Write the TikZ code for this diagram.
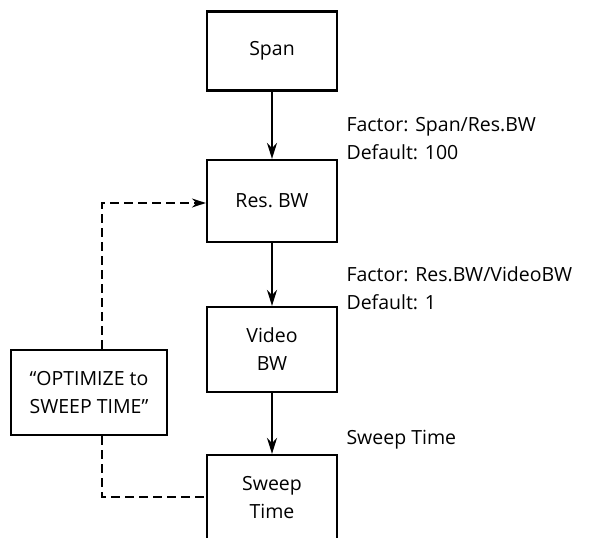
\documentclass[tikz,border=0pt]{standalone}
\usepackage{fontspec}
\setmainfont{Open Sans}
\usetikzlibrary{arrows.meta,positioning}

\begin{document}
\begin{tikzpicture}[x=1pt,y=-1pt,font=\fontsize{19.5}{28}\selectfont,
    blockbox/.style={draw,line width=2.2pt,minimum width=130pt,minimum height=82pt,align=center,inner sep=2pt},
    flow/.style={line width=2.2pt,-{Stealth[length=16pt,width=10pt]}},
    loopline/.style={line width=1.6pt,dash pattern=on 9pt off 5pt}]
    \useasboundingbox (0,0) rectangle (592,538);
    % main chain
    \node[blockbox,minimum height=79pt] (span) at (272,51) {Span};
    \node[blockbox] (resbw) at (272,201) {Res.\ BW};
    \node[blockbox,minimum height=85pt] (vidbw) at (272,349.5) {Video\\BW};
    \node[blockbox,minimum height=85pt] (swp) at (272,497.5) {Sweep\\Time};
    \draw[flow] (span) -- (resbw);
    \draw[flow] (resbw) -- (vidbw);
    \draw[flow] (vidbw) -- (swp);
    % factor labels
    \node[anchor=west,align=left] (fac1) at (343,139) {Factor: Span/Res.BW\\Default: 100};
    \node[anchor=west,align=left] (fac2) at (343,288) {Factor: Res.BW/VideoBW\\Default: 1};
    \node[anchor=west] (swplbl) at (343,440) {Sweep Time};
    % optimize loop
    \node[blockbox,minimum width=156pt,minimum height=85pt] (opt) at (89,392.5) {“OPTIMIZE to\\SWEEP TIME”};
    \coordinate (topbend) at (102,203);
    \coordinate (botbend) at (102,497);
    \draw[loopline,-{Stealth[length=14pt,width=9pt]}] (opt.north -| topbend) -- (topbend) -- (topbend -| resbw.west);
    \draw[loopline] (opt.south -| botbend) -- (botbend) -- (botbend -| swp.west);
\end{tikzpicture}
\end{document}
